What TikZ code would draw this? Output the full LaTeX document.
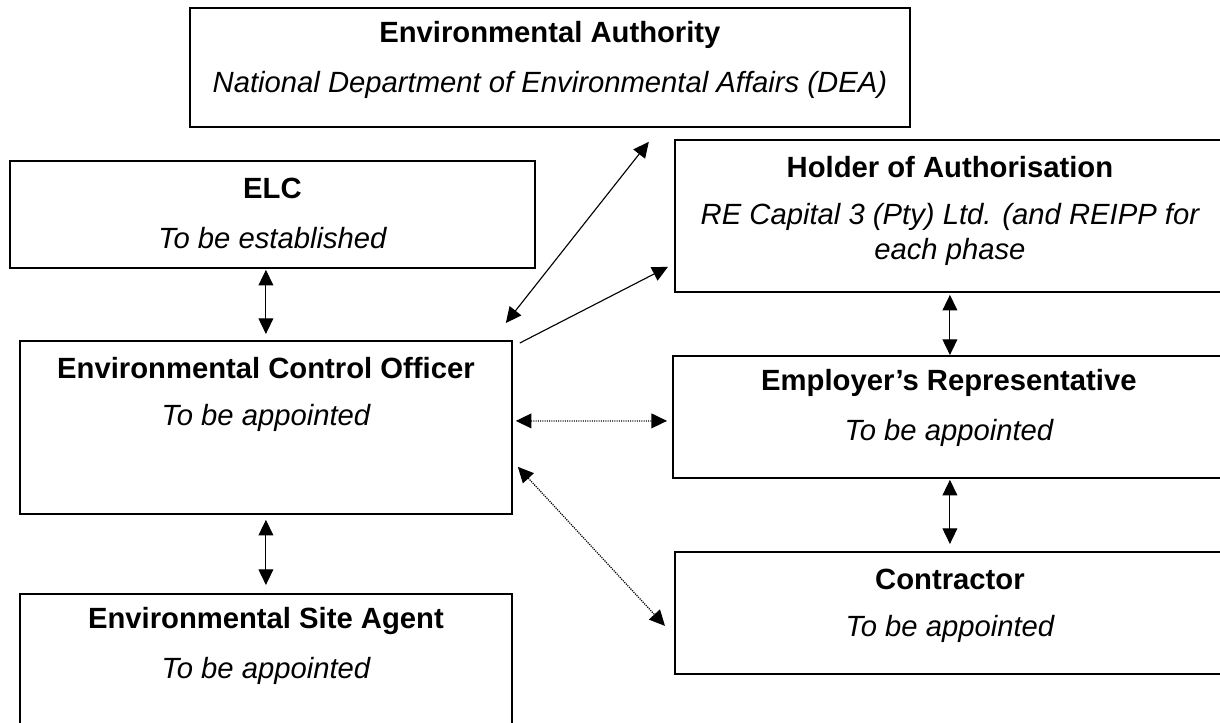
\documentclass[tikz,border=0pt]{standalone}
\usepackage{fontspec}
\setmainfont{Liberation Sans}
\usetikzlibrary{arrows.meta}

\tikzset{
  box/.style={draw, line width=1.3pt, rectangle, anchor=north west, inner sep=0pt},
  boxtitle/.style={font=\fontsize{20.8}{25}\selectfont\bfseries},
  boxnote/.style={font=\fontsize{20.8}{24.9}\selectfont\itshape, align=center},
  link/.style={<->, line width=0.8pt},
  dotlink/.style={<->, line width=0.9pt, dash pattern=on 0.8pt off 0.8pt},
}

\begin{document}
\begin{tikzpicture}[>={Triangle[length=3.9mm,width=3.7mm]}]
  \useasboundingbox (0,0) rectangle (30.5,-18.075);
  \clip (0,0) rectangle (30.5,-18.075);
  % Authority on top
  \node[box, minimum width=18cm, minimum height=2.975cm] (auth) at (4.725,-0.175) {};
  \node[boxtitle] (authT) at ([yshift=-0.7cm]auth.north) {Environmental Authority};
  \node[boxnote] (authN) at ([yshift=-1.95cm]auth.north) {National Department of Environmental Affairs (DEA)};
  % ELC
  \node[box, minimum width=13.125cm, minimum height=2.675cm] (elc) at (0.225,-4) {};
  \node[boxtitle] (elcT) at ([yshift=-0.7cm]elc.north) {ELC};
  \node[boxnote] (elcN) at ([yshift=-1.95cm]elc.north) {To be established};
  % Holder of authorisation
  \node[box, minimum width=13.75cm, minimum height=3.8cm] (holder) at (16.85,-3.475) {};
  \node[boxtitle] (holderT) at ([yshift=-0.7cm]holder.north) {Holder of Authorisation};
  \node[boxnote] (holderN) at ([yshift=-2.39cm]holder.north) {RE Capital 3 (Pty) Ltd. (and REIPP for\\each phase};
  % ECO
  \node[box, minimum width=12.3cm, minimum height=4.325cm] (eco) at (0.475,-8.5) {};
  \node[boxtitle] (ecoT) at ([yshift=-0.7cm]eco.north) {Environmental Control Officer};
  \node[boxnote] (ecoN) at ([yshift=-1.95cm]eco.north) {To be appointed};
  % Employer's representative
  \node[box, minimum width=13.8cm, minimum height=3.05cm] (er) at (16.8,-8.875) {};
  \node[boxtitle] (erT) at ([yshift=-0.7cm]er.north) {Employer’s Representative};
  \node[boxnote] (erN) at ([yshift=-1.95cm]er.north) {To be appointed};
  % Contractor
  \node[box, minimum width=13.75cm, minimum height=3.05cm] (con) at (16.85,-13.775) {};
  \node[boxtitle] (conT) at ([yshift=-0.7cm]con.north) {Contractor};
  \node[boxnote] (conN) at ([yshift=-1.95cm]con.north) {To be appointed};
  % Site agent
  \node[box, minimum width=12.3cm, minimum height=4.325cm] (esa) at (0.475,-14.825) {};
  \node[boxtitle] (esaT) at ([yshift=-0.7cm]esa.north) {Environmental Site Agent};
  \node[boxnote] (esaN) at ([yshift=-1.95cm]esa.north) {To be appointed};

  % Vertical links
  \draw[link, shorten <=0.025cm, shorten >=0.15cm] (elc.south -| eco.north) -- (eco.north);
  \draw[link, shorten <=0.125cm, shorten >=0.2cm] (eco.south) -- (esa.north);
  \draw[link, shorten <=0.05cm] (holder.south) -- (er.north -| holder.south);
  \draw[link, shorten <=0.025cm, shorten >=0.175cm] (er.south -| con.north) -- (con.north);
  % Diagonal links from the ECO
  \draw[link] ([shift={(-0.175,0.425)}]eco.north east) -- ([shift={(-6.55,-0.35)}]auth.south east);
  \draw[->, line width=0.8pt] ([shift={(0.175,-0.075)}]eco.north east) -- ([shift={(-0.15,0.65)}]holder.south west);
  \draw[dotlink] ([shift={(0.075,0.1625)}]eco.east) -- ([shift={(-0.125,-0.1)}]er.west);
  \draw[dotlink] ([shift={(0.125,1.2)}]eco.south east) -- ([shift={(-0.225,-0.325)}]con.west);
\end{tikzpicture}
\end{document}
